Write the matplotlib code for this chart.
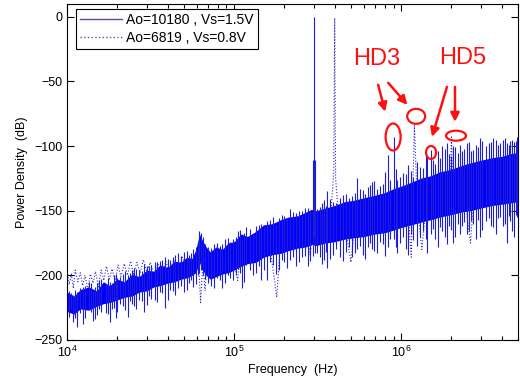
import numpy as np
import matplotlib
matplotlib.use('Agg')
import matplotlib.pyplot as plt
from matplotlib.lines import Line2D
from matplotlib.patches import Ellipse
from matplotlib.transforms import ScaledTranslation
from matplotlib.ticker import LogLocator, NullFormatter

plt.rcParams['font.family'] = ['Liberation Sans', 'DejaVu Sans']
plt.rcParams['mathtext.default'] = 'regular'

# --- dense noise band of the solid trace (Ao=10180, Vs=1.5V) ---
band_f = [1.0e4, 1.1e4, 1.2e4, 1.35e4, 1.5e4, 1.65e4, 1.8e4, 2.0e4, 2.2e4, 2.45e4,
          2.7e4, 3.0e4, 3.3e4, 3.6e4, 4.0e4, 4.4e4, 4.8e4, 5.2e4, 5.6e4, 5.9e4,
          6.2e4, 6.4e4, 6.8e4, 7.2e4, 7.8e4, 8.5e4, 9.2e4, 1.0e5, 1.1e5, 1.2e5,
          1.35e5, 1.5e5, 1.7e5, 1.9e5, 2.1e5, 2.4e5, 2.7e5, 2.9e5, 3.1e5, 3.5e5,
          4.0e5, 4.6e5, 5.2e5, 6.0e5, 7.0e5, 8.0e5, 9.0e5, 1.0e6, 1.15e6, 1.3e6,
          1.5e6, 1.7e6, 2.0e6, 2.3e6, 2.6e6, 3.0e6, 3.5e6, 4.0e6, 4.5e6, 5.0e6]
band_hi = [-213, -216, -211, -209, -212, -205, -208, -203, -205, -199,
           -201, -196, -197, -192, -194, -189, -190, -186, -187, -180,
           -168, -172, -178, -182, -178, -180, -175, -174, -168, -170,
           -166, -161, -160, -157, -155, -154, -151, -149, -150, -148,
           -146, -143, -142, -140, -138, -136, -133, -131, -128, -125,
           -123, -120, -118, -115, -113, -111, -109, -108, -106, -105]
band_lo = [-228, -230, -226, -227, -224, -222, -221, -219, -217, -216,
           -213, -212, -209, -208, -206, -205, -203, -202, -200, -198,
           -190, -195, -200, -203, -201, -199, -198, -196, -193, -191,
           -190, -186, -184, -183, -181, -179, -178, -176, -177, -175,
           -174, -172, -171, -170, -168, -167, -165, -163, -161, -159,
           -157, -155, -153, -151, -150, -148, -146, -145, -144, -143]

# --- single strokes of the solid trace: (freq, low end, high end) ---
strokes_low = [
    (1.02e4, -232, -212), (1.05e4, -226, -214), (1.08e4, -236, -215), (1.12e4, -233, -211),
    (1.15e4, -240, -213), (1.2e4, -229, -210), (1.25e4, -238, -209), (1.28e4, -233, -208),
    (1.35e4, -226, -205), (1.4e4, -228, -206), (1.43e4, -235, -212), (1.47e4, -234, -209),
    (1.52e4, -231, -206), (1.56e4, -226, -204), (1.6e4, -228, -203), (1.7e4, -229, -207),
    (1.75e4, -230, -202), (1.8e4, -236, -205), (1.85e4, -226, -206), (1.9e4, -225, -200),
    (1.95e4, -233, -199), (2.0e4, -228, -202), (2.08e4, -222, -201), (2.15e4, -224, -199),
    (2.22e4, -227, -197), (2.3e4, -232, -200), (2.38e4, -220, -198), (2.45e4, -222, -196),
    (2.52e4, -224, -194), (2.6e4, -226, -195), (2.7e4, -219, -196), (2.8e4, -220, -197),
    (2.9e4, -228, -191), (3.0e4, -223, -193), (3.1e4, -216, -193), (3.2e4, -218, -192),
    (3.35e4, -219, -190), (3.45e4, -221, -190), (3.58e4, -213, -189), (3.7e4, -214, -188),
    (3.85e4, -225, -186), (4.0e4, -219, -187), (4.15e4, -211, -188), (4.3e4, -212, -186),
    (4.45e4, -215, -184), (4.6e4, -210, -183), (4.8e4, -208, -185), (5.0e4, -213, -182),
    (5.2e4, -211, -181), (5.4e4, -206, -184), (5.55e4, -204, -183), (5.7e4, -209, -180),
    (5.9e4, -207, -178), (6.05e4, -200, -174), (6.2e4, -198, -166), (6.35e4, -196, -167),
    (6.5e4, -200, -170), (6.7e4, -203, -176), (7.0e4, -206, -178), (7.3e4, -208, -179),
    (7.6e4, -210, -176), (7.9e4, -202, -175), (8.2e4, -204, -177), (8.5e4, -210, -176),
    (8.8e4, -206, -172), (9.2e4, -200, -171), (9.5e4, -202, -174), (9.8e4, -204, -172)]
strokes_high = [
    (1.02e5, -200, -170), (1.05e5, -195, -166), (1.08e5, -198, -165), (1.12e5, -210, -172),
    (1.15e5, -205, -167), (1.18e5, -192, -163), (1.25e5, -196, -164), (1.3e5, -200, -168),
    (1.35e5, -198, -162), (1.4e5, -193, -161), (1.45e5, -204, -160), (1.5e5, -196, -163),
    (1.57e5, -204, -158), (1.63e5, -190, -157), (1.7e5, -192, -155), (1.78e5, -199, -160),
    (1.85e5, -196, -156), (1.93e5, -188, -153), (2.0e5, -190, -154), (2.08e5, -194, -156),
    (2.16e5, -188, -149), (2.25e5, -186, -151), (2.35e5, -193, -152), (2.45e5, -190, -150),
    (2.55e5, -186, -150), (2.65e5, -185, -148), (2.75e5, -193, -148), (2.85e5, -189, -150),
    (2.95e5, -185, -111), (3.0e5, -170, 0), (3.05e5, -183, -111), (3.15e5, -183, -149),
    (3.25e5, -186, -147), (3.35e5, -191, -144), (3.45e5, -188, -142), (3.55e5, -182, -146),
    (3.6e5, -194, -135), (3.75e5, -187, -141), (3.9e5, -184, -143), (4.1e5, -180, -144),
    (4.3e5, -186, -140), (4.5e5, -189, -138), (4.7e5, -182, -137), (4.9e5, -178, -140),
    (5.1e5, -186, -139), (5.3e5, -183, -136), (5.46e5, -180, -125), (5.7e5, -177, -133),
    (5.9e5, -184, -134), (6.1e5, -187, -137), (6.3e5, -178, -132), (6.5e5, -175, -130),
    (6.7e5, -180, -128), (6.9e5, -181, -127), (7.2e5, -183, -133), (7.5e5, -174, -131),
    (7.8e5, -176, -129), (8.0e5, -185, -120), (8.36e5, -178, -107), (8.6e5, -172, -126),
    (9.0e5, -172, -93), (9.3e5, -178, -118), (9.5e5, -183, -126), (9.86e5, -175, -124),
    (1.02e6, -170, -121), (1.07e6, -180, -122), (1.1e6, -184, -115), (1.14e6, -168, -119),
    (1.18e6, -173, -124), (1.24e6, -177, -112), (1.3e6, -170, -116), (1.36e6, -166, -117),
    (1.4e6, -172, -106), (1.43e6, -183, -108), (1.5e6, -168, -103), (1.55e6, -164, -111),
    (1.6e6, -172, -114), (1.66e6, -178, -104), (1.71e6, -163, -109), (1.76e6, -166, -100),
    (1.82e6, -170, -102), (1.88e6, -176, -98), (1.94e6, -162, -106), (2.0e6, -165, -108),
    (2.05e6, -175, -100), (2.1e6, -170, -101), (2.18e6, -160, -105), (2.24e6, -168, -99),
    (2.3e6, -162, -104), (2.38e6, -159, -102), (2.48e6, -168, -98), (2.55e6, -166, -97),
    (2.62e6, -158, -104), (2.7e6, -160, -103), (2.8e6, -172, -99), (2.88e6, -157, -101),
    (2.97e6, -170, -94), (3.05e6, -165, -96), (3.2e6, -158, -100), (3.35e6, -156, -98),
    (3.45e6, -162, -97), (3.56e6, -163, -94), (3.7e6, -168, -95), (3.8e6, -156, -99),
    (3.9e6, -155, -98), (4.08e6, -162, -95), (4.2e6, -160, -94), (4.3e6, -175, -98),
    (4.4e6, -154, -99), (4.5e6, -158, -96), (4.6e6, -166, -95), (4.75e6, -170, -97),
    (4.85e6, -153, -96), (4.95e6, -155, -93)]

# --- dotted trace (Ao=6819, Vs=0.8V) ---
dot_f = [1.00e4, 1.03e4, 1.06e4, 1.09e4, 1.12e4, 1.16e4, 1.2e4, 1.24e4, 1.28e4, 1.33e4,
         1.38e4, 1.43e4, 1.48e4, 1.54e4, 1.6e4, 1.66e4, 1.72e4, 1.79e4, 1.86e4, 1.94e4,
         2.02e4, 2.1e4, 2.2e4, 2.3e4, 2.4e4, 2.5e4, 2.62e4, 2.74e4, 2.86e4, 3.0e4,
         3.15e4, 3.3e4, 3.5e4, 3.7e4, 3.9e4, 4.1e4, 4.35e4, 4.6e4, 4.9e4, 5.2e4,
         5.5e4, 5.8e4, 6.1e4, 6.3e4, 6.5e4, 6.7e4, 6.9e4, 7.2e4, 7.6e4, 8.0e4,
         8.5e4, 9.0e4, 9.5e4, 1.0e5, 1.05e5, 1.1e5, 1.2e5, 1.3e5, 1.45e5, 1.6e5,
         1.8e5, 1.9e5, 2.1e5, 2.3e5, 2.5e5, 2.7e5, 2.85e5, 2.95e5, 3.1e5, 3.4e5,
         3.6e5, 3.8e5, 3.95e5, 4.0e5, 4.05e5, 4.2e5, 4.6e5, 5.0e5, 5.4e5, 6e5,
         6.6e5, 7.4e5, 8.2e5, 9e5, 1.0e6, 1.1e6, 1.15e6, 1.2e6, 1.25e6, 1.33e6,
         1.45e6, 1.6e6, 1.8e6, 1.95e6, 2.0e6, 2.05e6, 2.3e6, 2.6e6, 2.8e6, 3.2e6,
         3.6e6, 4.2e6, 5e6]
dot_db = [-197, -207, -199, -210, -196, -205, -198, -208, -200, -211,
          -199, -206, -197, -209, -196, -204, -193, -203, -195, -205,
          -192, -201, -191, -200, -189, -199, -190, -198, -188, -197,
          -190, -199, -191, -200, -189, -198, -188, -196, -186, -194,
          -188, -199, -185, -221, -190, -212, -183, -200, -180, -185,
          -179, -186, -180, -190, -204, -178, -185, -172, -180, -168,
          -217, -170, -176, -165, -173, -162, -184, -168, -160, -168,
          -158, -150, -120, -1, -125, -150, -160, -190, -150, -165,
          -145, -160, -140, -158, -135, -150, -186, -84, -145, -180,
          -130, -145, -125, -140, -93, -135, -120, -175, -118, -135,
          -112, -130, -110]

legend_labels = ['Ao=10180 , Vs=1.5V', 'Ao=6819 , Vs=0.8V']

blue = '#0000ff'
line_blue = '#1e1ed6'

fig = plt.figure(figsize=(5.2, 3.85), dpi=100)
ax = fig.add_axes([0.129, 0.117, 0.867, 0.873])

ax.plot(dot_f, dot_db, linestyle=':', color='#2a2ac0', linewidth=0.8, zorder=2)
ax.fill_between(band_f, band_lo, band_hi, color=blue, linewidth=0, zorder=3)
strokes = np.array(strokes_low + strokes_high)
ax.vlines(strokes[:, 0], strokes[:, 1], strokes[:, 2], color=line_blue, linewidth=0.8, zorder=4)

ax.set_xscale('log')
ax.set_xlim(1e4, 5e6)
ax.set_ylim(-250, 10)
ax.set_yticks([0, -50, -100, -150, -200, -250])
ax.xaxis.set_minor_locator(LogLocator(base=10, subs=np.arange(2, 10)))
ax.xaxis.set_minor_formatter(NullFormatter())
ax.tick_params(which='both', direction='in', top=True, right=True, labelsize=9)
ax.tick_params(which='major', length=5, width=0.8)
ax.tick_params(which='minor', length=3, width=0.8)
for s in ax.spines.values():
    s.set_linewidth(0.8)

ax.set_xlabel('Frequency  (Hz)', fontsize=9, labelpad=3)
ax.set_ylabel('Power Density  (dB)', fontsize=9, labelpad=4)

handles = [Line2D([], [], color='#5050b0', linewidth=1.0),
           Line2D([], [], color='#5050b0', linewidth=1.0, linestyle=':')]
leg = ax.legend(handles, legend_labels, loc='upper left', bbox_to_anchor=(0.02, 0.985),
                borderaxespad=0, fancybox=False, framealpha=1, edgecolor='black',
                fontsize=10, handlelength=3.0, handletextpad=0.3, borderpad=0.3,
                labelspacing=0.25)
leg.get_frame().set_linewidth(0.8)

# --- annotations: HD3 / HD5 ---
red = '#ff1010'
ax.text(7.18e5, -33, 'HD3', color=red, fontsize=17, ha='center', va='center', zorder=6)
ax.text(2.32e6, -32, 'HD5', color=red, fontsize=17, ha='center', va='center', zorder=6)

arrows = [((7.28e5, -52.6), (8.02e5, -73.5)),
          ((8.36e5, -51.1), (1.09e6, -68.1)),
          ((1.88e6, -54.2), (1.53e6, -92.9)),
          ((2.1e6, -54.2), (2.1e6, -81.3))]
for tail, tip in arrows:
    ax.annotate('', xy=tip, xytext=tail,
                arrowprops=dict(arrowstyle='-|>', color=red, lw=1.8, mutation_scale=13,
                                shrinkA=0, shrinkB=0), zorder=6)

ellipses = [(8.95e5, -93, 0.15, 0.27),
            (1.23e6, -77, 0.18, 0.15),
            (1.51e6, -105, 0.10, 0.13),
            (2.13e6, -92, 0.20, 0.10)]
for f, db, w, h in ellipses:
    tr = fig.dpi_scale_trans + ScaledTranslation(f, db, ax.transData)
    e = Ellipse((0, 0), w, h, transform=tr, fill=False, edgecolor=red, linewidth=1.6,
                zorder=6)
    ax.add_artist(e)

fig.savefig('out.png', dpi=100)
